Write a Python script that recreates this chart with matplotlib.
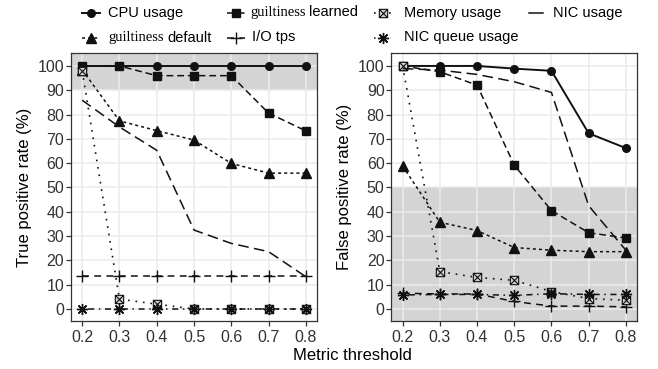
import numpy as np
import matplotlib
matplotlib.use("Agg")
import matplotlib.pyplot as plt
from matplotlib.lines import Line2D
from matplotlib.path import Path

plt.rcParams['font.family'] = 'Liberation Sans'

# data
thresholds = [0.2, 0.3, 0.4, 0.5, 0.6, 0.7, 0.8]

tpr_cpu = [100, 100, 100, 100, 100, 100, 100]
tpr_default = [98.4, 77.4, 73.4, 69.5, 59.9, 55.9, 55.9]
tpr_learned = [100, 100, 96, 96, 96, 80.6, 73.3]
tpr_io = [13.7, 13.7, 13.7, 13.7, 13.7, 13.7, 13.7]
tpr_memory = [98, 4.1, 2, 0, 0, 0, 0]
tpr_nicq = [0, 0, 0, 0, 0, 0, 0]
tpr_nic = [85.9, 74.9, 65.3, 32.5, 27, 23.6, 13.3]

fpr_cpu = [100, 100, 100, 98.9, 98, 72.3, 66.2]
fpr_default = [58.8, 35.7, 32.3, 25.3, 24.2, 23.6, 23.6]
fpr_learned = [100, 97.6, 92.1, 59.2, 40.5, 31.4, 29.2]
fpr_io = [6.5, 6.2, 6.2, 3.1, 1.2, 1.2, 0.9]
fpr_memory = [100, 15.4, 13, 11.8, 7.2, 4.3, 3.6]
fpr_nicq = [5.8, 6, 6, 5.6, 6.3, 6, 6]
fpr_nic = [98.9, 98.3, 96.5, 93.5, 89.1, 42.5, 24.2]

series_names = ["CPU usage", "guiltiness default", "guiltiness learned", "I/O tps",
                "Memory usage", "NIC queue usage", "NIC usage"]

# square with a cross inside (like R pch 7)
boxx = Path([(-1, -1), (1, -1), (1, 1), (-1, 1), (-1, -1), (-1, -1), (1, 1), (-1, 1), (1, -1)],
            [Path.MOVETO, Path.LINETO, Path.LINETO, Path.LINETO, Path.CLOSEPOLY,
             Path.MOVETO, Path.LINETO, Path.MOVETO, Path.LINETO])

ink = "#111111"
styles = {
    "CPU usage": dict(ls="-", marker="o", ms=5.5, lw=1.4),
    "guiltiness default": dict(ls=(0, (2, 2)), marker="^", ms=6.5, lw=1.1),
    "guiltiness learned": dict(ls=(0, (4.5, 2.5)), marker="s", ms=6, lw=1.1),
    "I/O tps": dict(ls=(0, (4.5, 3.5)), marker="+", ms=9, lw=1.1, mew=1.0),
    "Memory usage": dict(ls=(0, (1, 3.5)), marker=boxx, ms=6, lw=1.2, mfc="#d0d0d0", mew=0.8),
    "NIC queue usage": dict(ls=(0, (1, 3, 4, 3)), marker=(8, 2, 0), ms=8, lw=1.1, mew=1.0),
    "NIC usage": dict(ls=(0, (7, 3.5)), marker=None, ms=0, lw=1.1),
}

tpr = [tpr_cpu, tpr_default, tpr_learned, tpr_io, tpr_memory, tpr_nicq, tpr_nic]
fpr = [fpr_cpu, fpr_default, fpr_learned, fpr_io, fpr_memory, fpr_nicq, fpr_nic]

fig = plt.figure(figsize=(6.58, 3.69), dpi=100)
W, H = 658, 369
ax1 = fig.add_axes([71 / W, 1 - 320.7 / H, 246 / W, 267.4 / H])
ax2 = fig.add_axes([391.5 / W, 1 - 320.7 / H, 245.5 / W, 267.4 / H])


def draw_panel(ax, values, shade):
    ax.axhspan(shade[0], shade[1], color="#d4d4d4", zorder=0.3, lw=0)
    for name, ys in zip(series_names, values):
        st = dict(styles[name])
        mfc = st.pop("mfc", ink)
        ax.plot(thresholds, ys, color=ink, mfc=mfc, mec=ink, **st)
    ax.set_xlim(0.17, 0.83)
    ax.set_ylim(-4.8, 105.2)
    ax.set_xticks(thresholds)
    ax.set_xticklabels([f"{t:.1f}" for t in thresholds])
    ax.set_yticks(range(0, 101, 10))
    ax.set_axisbelow(True)
    ax.grid(True, color="#ebebeb", lw=1.1, zorder=0.5)
    ax.tick_params(length=3.5, width=0.9, color="#333333", labelsize=11.5,
                   labelcolor="#333333", pad=1.5)
    ax.tick_params(axis="x", pad=3)
    for sp in ax.spines.values():
        sp.set_color("#333333")
        sp.set_linewidth(0.9)


draw_panel(ax1, tpr, (90, 200))
draw_panel(ax2, fpr, (-100, 50))

fig.text(25 / W, 1 - 187 / H, "True positive rate (%)", rotation=90, ha="center",
         va="center", fontsize=12)
fig.text(345 / W, 1 - 187 / H, "False positive rate (%)", rotation=90, ha="center",
         va="center", fontsize=12)
fig.text(352 / W, 1 - 355 / H, "Metric threshold", ha="center", va="center", fontsize=12)

# legend, laid out by hand (two rows, four columns)
legend_pos = {
    "CPU usage": (91, 108, 12.5),
    "guiltiness default": (91, 108, 37.5),
    "guiltiness learned": (236, 250, 12.5),
    "I/O tps": (236, 252, 37.5),
    "Memory usage": (382.5, 404, 12.5),
    "NIC queue usage": (382.5, 404, 37.5),
    "NIC usage": (536, 553, 12.5),
}
renderer = fig.canvas.get_renderer()
for name in series_names:
    kx, tx, ky = legend_pos[name]
    st = dict(styles[name])
    mfc = st.pop("mfc", ink)
    if name == "NIC usage":
        st["ls"] = "-"
        half = 7
    else:
        half = 9
    fy = 1 - ky / H
    key = Line2D([(kx - half) / W, kx / W, (kx + half) / W], [fy, fy, fy],
                 transform=fig.transFigure, color=ink, mfc=mfc, mec=ink, markevery=[1], **st)
    fig.add_artist(key)
    if name.startswith("guiltiness"):
        t = fig.text(tx / W, fy, "guiltiness", fontsize=10.5, va="center",
                     family="Liberation Serif")
        bb = t.get_window_extent(renderer=renderer)
        fig.text(bb.x1 / W + 4 / W, fy, name.split(" ")[1], fontsize=10.5, va="center")
    else:
        fig.text(tx / W, fy, name, fontsize=10.5, va="center")

fig.savefig("out.png", dpi=100)
